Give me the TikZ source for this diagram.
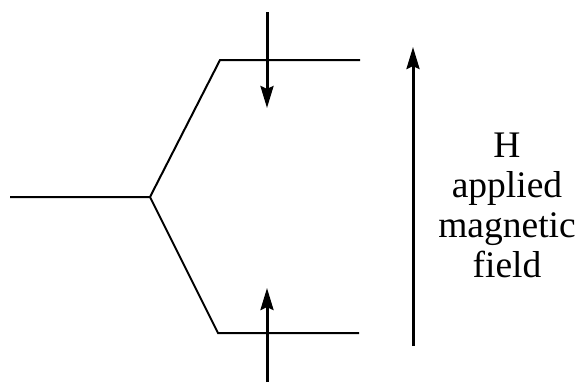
\documentclass[tikz,border=0pt]{standalone}
\usepackage{fontspec}
\setmainfont{Liberation Serif}
\usetikzlibrary{arrows.meta}
\begin{document}
\begin{tikzpicture}[x=1pt,y=-1pt,
  wire/.style={line width=2pt,line join=miter},
  fieldarrow/.style={line width=3pt,-{Stealth[length=22pt,width=13pt,inset=3pt]}},
  lbl/.style={font=\fontsize{37.5}{39.7}\selectfont,align=center,inner sep=0pt}]
\useasboundingbox (0,0) rectangle (581,388);
\coordinate (L) at (10,197);
\coordinate (J) at (150,197);
\coordinate (T1) at (220,60);
\coordinate (T2) at (360,60);
\coordinate (B1) at (218,333);
\coordinate (B2) at (359,333);
\draw[wire] (L) -- (J) -- (T1) -- (T2);
\draw[wire] (J) -- (B1) -- (B2);
\coordinate (a1s) at (267,12);
\coordinate (a1e) at (267,108);
\coordinate (a2s) at (267,382);
\coordinate (a2e) at (267,288);
\coordinate (hs) at (413,346);
\coordinate (he) at (413,47);
\draw[fieldarrow] (a1s) -- (a1e);
\draw[fieldarrow] (a2s) -- (a2e);
\draw[fieldarrow] (hs) -- (he);
\node[lbl,anchor=base] (txt) at (507,277) {H\\applied\\magnetic\\field};
\end{tikzpicture}
\end{document}
